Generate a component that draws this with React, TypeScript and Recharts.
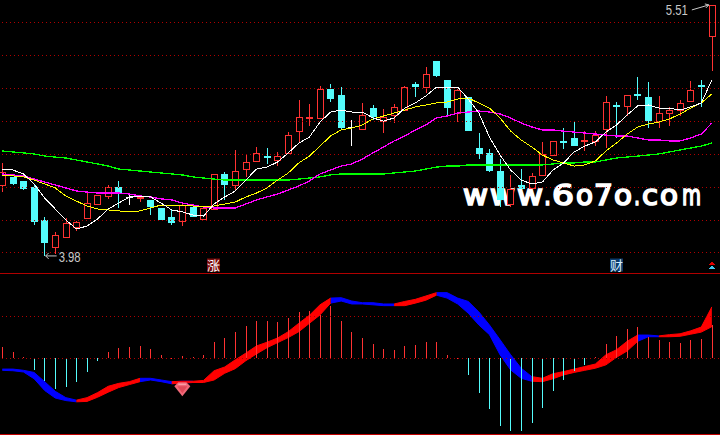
import React from "react";
import { ComposedChart, Bar, Line, Area, XAxis, YAxis, ReferenceLine, ReferenceDot } from "recharts";

const opens = [4.414,4.463,4.438,4.402,4.201,4.037,4.097,4.158,4.213,4.298,4.347,4.402,4.341,4.329,4.323,4.274,4.219,4.195,4.280,4.207,4.268,4.481,4.414,4.511,4.560,4.590,4.566,4.609,4.742,4.816,4.822,4.998,4.962,4.767,4.755,4.882,4.803,4.840,4.870,5.029,5.010,5.168,5.053,4.852,4.949,4.639,4.609,4.499,4.298,4.414,4.396,4.475,4.596,4.682,4.700,4.676,4.682,4.755,4.901,4.895,4.968,4.949,4.803,4.852,4.870,4.925,5.022,5.321];
const closes = [4.493,4.420,4.390,4.189,4.061,4.110,4.183,4.189,4.304,4.353,4.402,4.359,4.341,4.341,4.280,4.201,4.183,4.292,4.219,4.274,4.481,4.414,4.499,4.554,4.609,4.578,4.590,4.718,4.828,4.828,4.998,4.937,4.761,4.767,4.840,4.828,4.828,4.889,5.010,5.010,5.089,5.077,4.882,4.992,4.742,4.603,4.499,4.323,4.390,4.390,4.469,4.603,4.682,4.669,4.651,4.688,4.718,4.919,4.889,4.962,4.956,4.803,4.852,4.870,4.913,4.992,5.010,5.510];
const highs = [4.548,4.463,4.438,4.420,4.219,4.128,4.213,4.195,4.377,4.353,4.414,4.438,4.353,4.353,4.323,4.274,4.268,4.298,4.280,4.280,4.481,4.493,4.627,4.603,4.645,4.639,4.615,4.736,4.931,4.907,5.016,5.029,5.010,4.809,4.913,4.901,4.876,4.907,5.016,5.041,5.132,5.168,5.053,4.998,4.949,4.730,4.633,4.572,4.475,4.511,4.487,4.676,4.682,4.761,4.803,4.742,4.742,4.956,4.919,4.962,5.071,5.041,4.956,4.889,4.931,5.047,5.053,5.510];
const lows = [4.371,4.414,4.383,4.170,3.982,3.994,4.091,4.134,4.213,4.298,4.329,4.274,4.292,4.310,4.231,4.201,4.170,4.164,4.219,4.207,4.268,4.323,4.383,4.463,4.560,4.542,4.529,4.609,4.669,4.773,4.822,4.919,4.749,4.651,4.755,4.809,4.730,4.791,4.864,4.949,4.974,5.071,4.834,4.797,4.742,4.572,4.493,4.280,4.280,4.390,4.390,4.475,4.596,4.633,4.651,4.621,4.651,4.639,4.700,4.834,4.931,4.761,4.761,4.773,4.834,4.925,4.889,5.108];
const ma5 = [4.511,4.505,4.481,4.420,4.335,4.268,4.201,4.146,4.164,4.207,4.268,4.304,4.341,4.341,4.341,4.304,4.262,4.250,4.231,4.225,4.298,4.341,4.377,4.444,4.511,4.523,4.554,4.609,4.669,4.706,4.797,4.858,4.870,4.858,4.858,4.822,4.803,4.822,4.882,4.913,4.956,5.010,5.010,5.010,4.937,4.852,4.706,4.596,4.505,4.444,4.420,4.432,4.505,4.548,4.615,4.651,4.676,4.736,4.779,4.840,4.895,4.901,4.882,4.882,4.870,4.889,4.913,5.053];
const ma10 = [4.469,4.469,4.463,4.444,4.420,4.396,4.347,4.316,4.286,4.268,4.262,4.256,4.250,4.256,4.274,4.292,4.292,4.292,4.286,4.280,4.286,4.298,4.310,4.341,4.365,4.396,4.444,4.487,4.548,4.590,4.651,4.712,4.749,4.761,4.779,4.816,4.834,4.852,4.870,4.889,4.901,4.913,4.919,4.937,4.943,4.913,4.882,4.822,4.742,4.688,4.645,4.596,4.566,4.548,4.529,4.536,4.560,4.621,4.669,4.724,4.767,4.785,4.797,4.816,4.846,4.882,4.913,4.968];
const ma20 = [4.481,4.475,4.469,4.450,4.432,4.414,4.396,4.377,4.371,4.365,4.365,4.365,4.359,4.347,4.341,4.329,4.323,4.304,4.292,4.280,4.274,4.274,4.274,4.298,4.323,4.341,4.359,4.383,4.408,4.438,4.481,4.505,4.529,4.542,4.572,4.609,4.645,4.682,4.712,4.749,4.779,4.822,4.834,4.852,4.858,4.864,4.858,4.846,4.822,4.791,4.767,4.749,4.749,4.742,4.736,4.730,4.724,4.718,4.712,4.712,4.700,4.688,4.688,4.682,4.682,4.700,4.724,4.791];
const ma60 = [4.621,4.615,4.609,4.603,4.590,4.584,4.578,4.566,4.554,4.542,4.529,4.511,4.505,4.499,4.493,4.487,4.481,4.475,4.463,4.456,4.450,4.444,4.444,4.444,4.444,4.444,4.444,4.444,4.450,4.456,4.463,4.475,4.481,4.481,4.481,4.481,4.481,4.487,4.493,4.499,4.511,4.523,4.529,4.529,4.536,4.536,4.536,4.536,4.536,4.536,4.536,4.536,4.542,4.548,4.548,4.554,4.554,4.566,4.578,4.584,4.590,4.596,4.603,4.615,4.627,4.639,4.651,4.669];
const macdBars = [.027,.014,.003,-.028,-.054,-.073,-.068,-.056,-.033,-.006,.015,.025,.027,.029,.022,.008,.001,.005,.003,.008,.039,.048,.063,.077,.089,.089,.086,.096,.110,.113,.102,.125,.089,.063,.048,.034,.022,.020,.029,.032,.039,.039,.008,.001,-.040,-.083,-.121,-.161,-.173,-.173,-.154,-.118,-.078,-.052,-.030,-.017,.003,.034,.053,.070,.075,.051,.044,.039,.036,.044,.046,.079];
const ribbonTop = [-.026,-.026,-.029,-.034,-.056,-.079,-.094,-.100,-.094,-.082,-.067,-.060,-.056,-.048,-.048,-.052,-.056,-.055,-.055,-.053,-.030,-.021,-.004,.012,.029,.038,.048,.063,.083,.102,.127,.143,.144,.136,.132,.132,.129,.129,.135,.140,.148,.156,.156,.143,.135,.110,.079,.044,.008,-.024,-.044,-.048,-.037,-.032,-.026,-.020,-.014,.008,.020,.040,.055,.055,.053,.056,.058,.065,.074,.122];
const ribbonBottom = [-.029,-.030,-.033,-.049,-.077,-.095,-.101,-.104,-.103,-.093,-.081,-.070,-.063,-.056,-.052,-.056,-.061,-.059,-.058,-.058,-.052,-.036,-.025,-.006,.010,.025,.037,.049,.063,.083,.103,.131,.136,.129,.129,.127,.125,.125,.125,.131,.138,.150,.143,.129,.107,.079,.056,.008,-.028,-.048,-.055,-.056,-.049,-.040,-.034,-.029,-.024,-.016,.002,.017,.040,.051,.051,.051,.052,.057,.062,.075];
const ribbonTrend = "ddddddddrrrrrrdddrdrrrrrrrrrrrrrddddddrrrrdddddddddrrrrrrrrrrddrrrrr";
const priceGrid = [5.4, 5.2, 5.0, 4.8, 4.6, 4.4, 4.2, 4.0];
const macdGrid = [0.1, 0];
const lowLabel = "3.98";
const highLabel = "5.51";
const watermark = "www.6o7o.com";

const candles = opens.map((open, i) => ({
  i, open, close: closes[i], high: highs[i], low: lows[i], range: [lows[i], highs[i]],
  ma5: ma5[i], ma10: ma10[i], ma20: ma20[i], ma60: ma60[i],
}));
const macd = macdBars.map((bar, i) => {
  const band = [ribbonBottom[i], ribbonTop[i]];
  const isRed = ribbonTrend[i] === "r" || ribbonTrend[i + 1] === "r";
  const isBlue = ribbonTrend[i] === "d" || ribbonTrend[i + 1] === "d";
  return { i, bar, red: isRed ? band : null, blue: isBlue ? band : null };
});

const RED = "#ff3232";
const CYAN = "#54fcfc";
const GRID = "#b00000";
const LABEL = "#c8c8c8";
const xDomain = [-0.217, 67.77];

function Candle(props: any) {
  const { x, y, width, height, payload } = props;
  const { open, close, high, low } = payload;
  const k = height / (high - low);
  const cx = Math.round(x + width / 2 - 0.5) + 0.5;
  const top = Math.round(y + (high - Math.max(open, close)) * k);
  const bot = Math.round(y + (high - Math.min(open, close)) * k);
  const yHigh = Math.round(y);
  const yLow = Math.round(y + height);
  const up = close > open;
  const flat = bot - top <= 2;
  const color = open === close ? "#ffffff" : up ? RED : CYAN;
  const style = { shapeRendering: "crispEdges" as const };
  return (
    <g style={style}>
      <rect x={cx - 0.5} y={yHigh} width={1} height={Math.max(top - yHigh, 0)} fill={color} />
      <rect x={cx - 0.5} y={bot} width={1} height={Math.max(yLow - bot, 0)} fill={color} />
      {flat || !up ? (
        <rect x={cx - 3.5} y={top} width={7} height={Math.max(bot - top, 1)} fill={color} />
      ) : (
        <rect x={cx - 3} y={top + 0.5} width={6} height={bot - top} fill="#000" stroke={color} strokeWidth={1} />
      )}
    </g>
  );
}

function HistBar(props: any) {
  const { x, y, width, height, payload } = props;
  const top = Math.round(Math.min(y, y + height));
  const h = Math.round(Math.abs(height));
  const cx = Math.round(x + width / 2 - 0.5);
  const color = payload.bar > 0 ? RED : CYAN;
  return <rect x={cx} y={top} width={1} height={Math.max(h, 1)} fill={color} style={{ shapeRendering: "crispEdges" }} />;
}

function DotLine(props: any) {
  const y = Math.floor(props.y1) + 0.5;
  return <line x1={2} x2={720} y1={y} y2={y} stroke={GRID} strokeWidth={1} strokeDasharray="1 3" />;
}

function LowMark(props: any) {
  const { cx, cy } = props;
  return (
    <g>
      <path d={`M${cx + 1} ${cy}H${cx + 12}M${cx + 1} ${cy}l3 -3M${cx + 1} ${cy}l3 3`} stroke={LABEL} strokeWidth={1} fill="none" />
      <text x={cx + 14} y={cy + 6} fill={LABEL} fontFamily="Liberation Sans" fontSize={14} textLength={22} lengthAdjust="spacingAndGlyphs">{lowLabel}</text>
    </g>
  );
}

function HighMark(props: any) {
  const { cx, cy } = props;
  return (
    <g>
      <path d={`M${cx - 20} ${cy + 5}L${cx - 3} ${cy}M${cx - 3} ${cy}l-4 -1M${cx - 3} ${cy}l-3 3`} stroke={LABEL} strokeWidth={1} fill="none" />
      <text x={cx - 46} y={cy + 10} fill={LABEL} fontFamily="Liberation Sans" fontSize={14} textLength={22} lengthAdjust="spacingAndGlyphs">{highLabel}</text>
    </g>
  );
}

function Badge(props: any) {
  const { cx, cy, bg, fg, glyph } = props;
  return (
    <g>
      <rect x={Math.round(cx) - 7} y={Math.round(cy) - 6.5} width={13} height={13} fill={bg} />
      <text x={Math.round(cx) - 0.5} y={Math.round(cy) + 5} textAnchor="middle" fill={fg} fontFamily="Noto Sans CJK SC" fontSize={13} fontWeight={400}>{glyph}</text>
    </g>
  );
}

function Arrows(props: any) {
  const { cx, cy } = props;
  return (
    <g style={{ shapeRendering: "crispEdges" }}>
      <path d={`M${cx - 4} ${cy}L${cx} ${cy - 4}L${cx + 4} ${cy}Z`} fill="#e00000" />
      <path d={`M${cx - 4} ${cy + 4}L${cx} ${cy}L${cx + 4} ${cy + 4}Z`} fill="#40c8f0" />
    </g>
  );
}

function Gem(props: any) {
  const { cx, cy } = props;
  return (
    <g>
      <path d={`M${cx - 8} ${cy - 3}L${cx - 4} ${cy - 7}H${cx + 4}L${cx + 8} ${cy - 3}L${cx} ${cy + 7}Z`} fill="#f06878" />
      <path d={`M${cx - 5} ${cy - 3}H${cx + 5}L${cx} ${cy + 4}Z`} fill="#e04858" />
      <path d={`M${cx - 4} ${cy - 5}H${cx + 4}`} stroke="#ffb0b8" strokeWidth={1} />
    </g>
  );
}

const glyphStart = [463, 490, 517, 544, 552, 576, 594, 614, 634, 642, 660, 682];
const glyphWidth = [25, 25, 26, 7, 22, 17, 19, 18, 6, 16, 18, 19];

function Mark() {
  return (
    <g>
      {watermark.split("").map((ch, i) => (
        <text key={i} x={glyphStart[i]} y={205} fill="#ffffff" stroke="#ffffff" strokeWidth={1.7} fontFamily="DejaVu Sans" fontSize={28} textLength={glyphWidth[i]} lengthAdjust="spacingAndGlyphs">{ch}</text>
      ))}
    </g>
  );
}

export default function App() {
  return (
    <div style={{ position: "absolute", left: 0, top: 0, width: 720, height: 435, background: "#000", overflow: "hidden" }}>
      <div style={{ position: "absolute", left: 0, top: 0 }}>
        <ComposedChart width={720} height={274} data={candles} margin={{ top: 0, right: 0, bottom: 0, left: 0 }}>
          <XAxis dataKey="i" type="number" domain={xDomain} hide allowDataOverflow />
          <YAxis type="number" domain={[3.872, 5.54]} hide allowDataOverflow />
          <Mark />
          {priceGrid.map((v) => (
            <ReferenceLine key={v} y={v} shape={DotLine} />
          ))}
          <ReferenceLine y={3.878} stroke="#b00000" shapeRendering="crispEdges" />
          <Bar dataKey="range" barSize={7} shape={<Candle />} isAnimationActive={false} />
          <Line dataKey="ma60" stroke="#00ff00" strokeWidth={1.3} dot={false} activeDot={false} isAnimationActive={false} type="linear" shapeRendering="crispEdges" />
          <Line dataKey="ma20" stroke="#ff00ff" strokeWidth={1.3} dot={false} activeDot={false} isAnimationActive={false} type="linear" shapeRendering="crispEdges" />
          <Line dataKey="ma10" stroke="#ffff00" strokeWidth={1} dot={false} activeDot={false} isAnimationActive={false} type="linear" shapeRendering="crispEdges" />
          <Line dataKey="ma5" stroke="#ffffff" strokeWidth={1} dot={false} activeDot={false} isAnimationActive={false} type="linear" shapeRendering="crispEdges" />
          <ReferenceDot x={4} y={3.982} r={0} shape={<LowMark />} ifOverflow="visible" />
          <ReferenceDot x={67} y={5.51} r={0} shape={<HighMark />} ifOverflow="visible" />
          <ReferenceDot x={20} y={3.924} r={0} shape={<Badge bg="#7a0a0a" fg="#ffffff" glyph="涨" />} ifOverflow="visible" />
          <ReferenceDot x={58} y={3.924} r={0} shape={<Badge bg="#0a3a6a" fg="#d8f0ff" glyph="财" />} ifOverflow="visible" />
          <ReferenceDot x={67} y={3.925} r={0} shape={<Arrows />} ifOverflow="visible" />
        </ComposedChart>
      </div>
      <div style={{ position: "absolute", left: 0, top: 275 }}>
        <ComposedChart width={720} height={160} data={macd} margin={{ top: 0, right: 0, bottom: 0, left: 0 }}>
          <XAxis dataKey="i" type="number" domain={xDomain} hide allowDataOverflow />
          <YAxis type="number" domain={[-0.183, 0.198]} hide allowDataOverflow />
          {macdGrid.map((v) => (
            <ReferenceLine key={v} y={v} shape={DotLine} />
          ))}
          <ReferenceLine y={-0.181} stroke="#c00000" shapeRendering="crispEdges" />
          <Bar dataKey="bar" barSize={1} shape={<HistBar />} isAnimationActive={false} />
          <Area dataKey="blue" stroke="#0000ff" strokeWidth={1} fill="#0000ff" fillOpacity={1} dot={false} activeDot={false} isAnimationActive={false} type="linear" />
          <Area dataKey="red" stroke="#ff0000" strokeWidth={1} fill="#ff0000" fillOpacity={1} dot={false} activeDot={false} isAnimationActive={false} type="linear" />
          <ReferenceDot x={17} y={-0.074} r={0} shape={<Gem />} ifOverflow="visible" />
        </ComposedChart>
      </div>
    </div>
  );
}
